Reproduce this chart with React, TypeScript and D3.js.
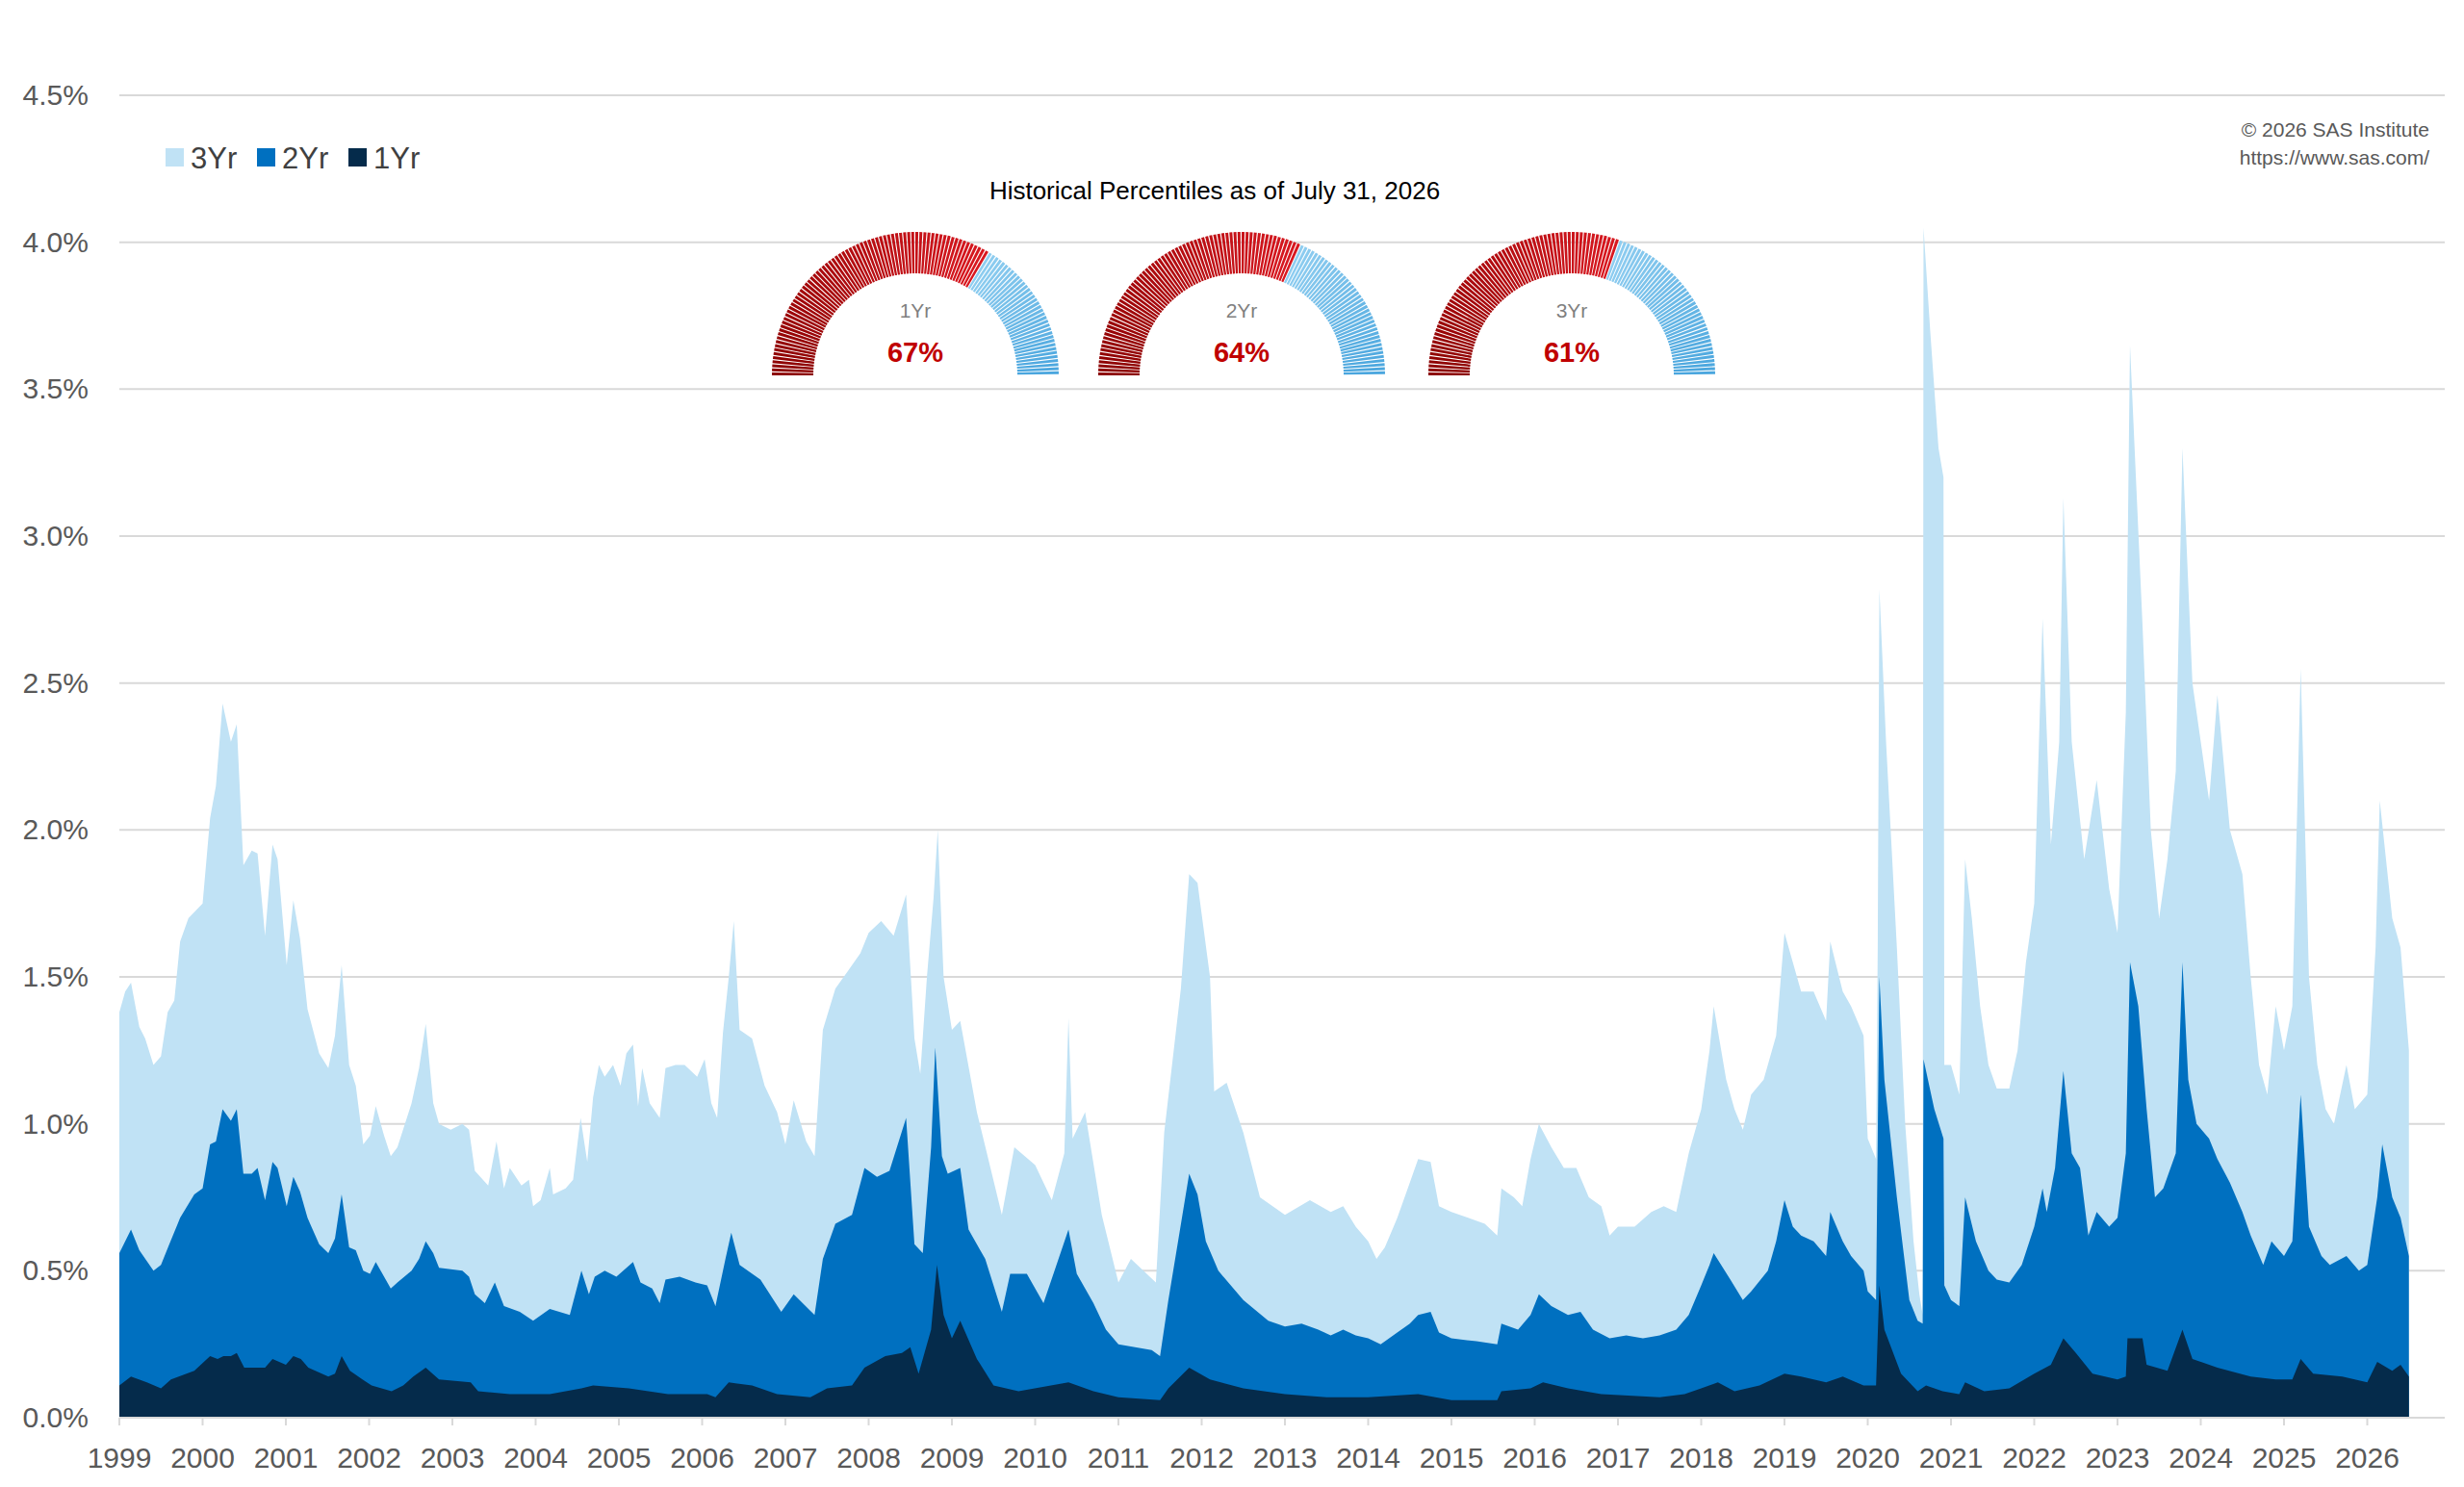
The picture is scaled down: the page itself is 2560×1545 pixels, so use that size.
import React from "react";
import * as d3 from "d3";

// [decimal year, percent]
const yr3: [number, number][] = [
  [1999.0,1.38],[1999.07,1.45],[1999.14,1.48],[1999.24,1.33],[1999.31,1.29],[1999.41,1.2],[1999.5,1.23],[1999.58,1.38],[1999.66,1.42],[1999.73,1.62],[1999.83,1.7],[2000.0,1.75],[2000.09,2.04],[2000.16,2.15],[2000.24,2.43],[2000.34,2.3],[2000.41,2.36],[2000.49,1.88],[2000.59,1.93],[2000.66,1.92],[2000.75,1.64],[2000.84,1.95],[2000.9,1.9],[2001.01,1.54],[2001.09,1.76],[2001.17,1.63],[2001.26,1.39],[2001.4,1.24],[2001.51,1.19],[2001.59,1.3],[2001.67,1.54],[2001.76,1.2],[2001.84,1.13],[2001.93,0.93],[2002.01,0.96],[2002.08,1.06],[2002.18,0.96],[2002.26,0.89],[2002.34,0.92],[2002.51,1.07],[2002.6,1.19],[2002.68,1.34],[2002.77,1.07],[2002.84,1.0],[2002.98,0.98],[2003.12,1.0],[2003.2,0.98],[2003.27,0.84],[2003.43,0.79],[2003.53,0.94],[2003.62,0.78],[2003.69,0.85],[2003.83,0.79],[2003.92,0.81],[2003.97,0.72],[2004.06,0.74],[2004.17,0.85],[2004.21,0.76],[2004.36,0.78],[2004.45,0.81],[2004.54,1.02],[2004.62,0.87],[2004.69,1.09],[2004.76,1.2],[2004.83,1.16],[2004.93,1.2],[2005.02,1.13],[2005.09,1.24],[2005.17,1.27],[2005.23,1.06],[2005.28,1.19],[2005.37,1.07],[2005.49,1.02],[2005.56,1.19],[2005.68,1.2],[2005.79,1.2],[2005.94,1.16],[2006.03,1.22],[2006.11,1.07],[2006.18,1.02],[2006.25,1.31],[2006.32,1.5],
  [2006.38,1.69],[2006.45,1.32],[2006.6,1.29],[2006.75,1.13],[2006.9,1.04],[2007.0,0.93],[2007.1,1.08],[2007.25,0.94],[2007.35,0.89],[2007.45,1.32],[2007.6,1.46],[2007.75,1.52],[2007.9,1.58],[2008.0,1.65],[2008.15,1.69],[2008.3,1.64],[2008.45,1.78],[2008.55,1.29],[2008.62,1.17],[2008.7,1.5],[2008.78,1.77],[2008.83,2.0],[2008.9,1.5],[2009.0,1.32],[2009.1,1.35],[2009.3,1.04],[2009.6,0.69],[2009.75,0.92],[2010.0,0.86],[2010.2,0.74],[2010.35,0.9],[2010.4,1.36],[2010.45,0.95],[2010.6,1.04],[2010.8,0.69],[2011.0,0.46],[2011.15,0.54],[2011.45,0.46],[2011.55,0.97],[2011.75,1.46],[2011.85,1.85],[2011.95,1.82],[2012.1,1.5],[2012.15,1.11],[2012.3,1.14],[2012.5,0.97],[2012.7,0.75],[2013.0,0.69],[2013.3,0.74],
  [2013.55,0.7],[2013.7,0.72],[2013.85,0.65],[2014.0,0.6],[2014.1,0.54],[2014.2,0.58],[2014.35,0.68],[2014.5,0.8],[2014.6,0.88],[2014.75,0.87],[2014.85,0.72],[2015.0,0.7],[2015.2,0.68],[2015.4,0.66],[2015.55,0.62],[2015.6,0.78],[2015.75,0.75],[2015.85,0.72],[2015.95,0.88],[2016.05,1.0],[2016.2,0.92],[2016.35,0.85],[2016.5,0.85],[2016.65,0.75],[2016.8,0.72],[2016.9,0.62],[2017.0,0.65],[2017.2,0.65],[2017.4,0.7],[2017.55,0.72],[2017.7,0.7],[2017.85,0.9],[2018.0,1.05],[2018.1,1.25],[2018.15,1.4],[2018.3,1.15],[2018.4,1.05],[2018.5,0.98],[2018.6,1.1],[2018.75,1.15],[2018.9,1.3],[2019.0,1.65],[2019.1,1.55],[2019.2,1.45],[2019.35,1.45],[2019.5,1.35],[2019.55,1.62],[2019.7,1.45],[2019.8,1.4],[2019.95,1.3],[2020.0,0.95],[2020.1,0.88],[2020.12,1.6],[2020.14,2.82],[2020.22,2.3],[2020.35,1.6],[2020.45,1.0],[2020.55,0.6],[2020.62,0.42],[2020.66,0.35],[2020.67,4.05],[2020.75,3.7],[2020.85,3.3],[2020.91,3.2],[2020.92,1.2],[2021.0,1.2],[2021.1,1.1],[2021.17,1.9],[2021.25,1.7],[2021.35,1.4],[2021.45,1.2],[2021.55,1.12],[2021.7,1.12],[2021.8,1.25],[2021.9,1.55],[2022.0,1.75],[2022.1,2.72],[2022.2,1.95],[2022.3,2.3],[2022.35,3.13],[2022.45,2.3],[2022.6,1.9],[2022.75,2.17],[2022.9,1.8],[2023.0,1.65],[2023.1,2.4],[2023.15,3.65],[2023.3,2.7],[2023.4,2.0],[2023.5,1.7],[2023.6,1.9],[2023.7,2.2],[2023.78,3.3],[2023.9,2.5],[2024.0,2.3],[2024.1,2.1],[2024.2,2.46],[2024.35,2.0],[2024.5,1.85],[2024.6,1.5],[2024.7,1.2],[2024.8,1.1],[2024.9,1.4],[2025.0,1.25],[2025.1,1.4],[2025.2,2.55],[2025.3,1.5],[2025.4,1.2],[2025.5,1.05],[2025.6,1.0],[2025.75,1.2],[2025.85,1.05],[2026.0,1.1],[2026.1,1.6],[2026.15,2.1],[2026.3,1.7],[2026.4,1.6],[2026.5,1.25],
];

const yr2: [number, number][] = [
  [1999.0,0.56],[1999.14,0.64],[1999.24,0.57],[1999.41,0.5],[1999.5,0.52],[1999.6,0.59],[1999.73,0.68],[1999.9,0.76],[2000.0,0.78],[2000.09,0.93],[2000.16,0.94],[2000.24,1.05],[2000.34,1.01],[2000.41,1.05],[2000.49,0.83],[2000.59,0.83],[2000.66,0.85],[2000.75,0.74],[2000.84,0.87],[2000.9,0.85],[2001.01,0.72],[2001.09,0.82],[2001.17,0.77],[2001.26,0.68],[2001.4,0.59],[2001.51,0.56],[2001.59,0.61],[2001.67,0.76],[2001.76,0.58],[2001.84,0.57],[2001.93,0.5],[2002.01,0.49],[2002.08,0.53],[2002.26,0.44],[2002.34,0.46],[2002.51,0.5],[2002.6,0.54],[2002.68,0.6],[2002.77,0.56],[2002.84,0.51],[2003.12,0.5],[2003.2,0.48],[2003.27,0.42],[2003.39,0.39],[2003.51,0.46],[2003.62,0.38],[2003.81,0.36],[2003.97,0.33],[2004.17,0.37],[2004.41,0.35],[2004.55,0.5],[2004.64,0.42],[2004.71,0.48],[2004.83,0.5],[2004.97,0.48],[2005.17,0.53],[2005.26,0.46],[2005.4,0.44],[2005.49,0.39],[2005.56,0.47],[2005.73,0.48],[2005.92,0.46],[2006.06,0.45],[2006.16,0.38],[2006.28,0.54],[2006.35,0.63],
  [2006.45,0.52],[2006.7,0.47],[2006.95,0.36],[2007.1,0.42],[2007.35,0.35],[2007.45,0.54],[2007.6,0.66],[2007.8,0.69],[2007.95,0.85],[2008.1,0.82],[2008.25,0.84],[2008.45,1.02],[2008.55,0.59],[2008.65,0.56],[2008.75,0.92],[2008.8,1.26],[2008.88,0.89],[2008.95,0.83],[2009.1,0.85],[2009.2,0.64],[2009.4,0.54],[2009.6,0.36],[2009.7,0.49],[2009.9,0.49],[2010.1,0.39],[2010.4,0.64],[2010.5,0.49],[2010.7,0.39],[2010.85,0.3],[2011.0,0.25],[2011.4,0.23],[2011.5,0.21],[2011.6,0.4],[2011.85,0.83],[2011.95,0.76],[2012.05,0.6],[2012.2,0.5],[2012.5,0.4],[2012.8,0.33],[2013.0,0.31],
  [2013.2,0.32],[2013.4,0.3],[2013.55,0.28],[2013.7,0.3],[2013.85,0.28],[2014.0,0.27],[2014.15,0.25],[2014.3,0.28],[2014.5,0.32],[2014.6,0.35],[2014.75,0.36],[2014.85,0.29],[2015.0,0.27],[2015.3,0.26],[2015.55,0.25],[2015.6,0.32],[2015.8,0.3],[2015.95,0.35],[2016.05,0.42],[2016.2,0.38],[2016.4,0.35],[2016.55,0.36],[2016.7,0.3],[2016.9,0.27],[2017.1,0.28],[2017.3,0.27],[2017.5,0.28],[2017.7,0.3],[2017.85,0.35],[2018.0,0.45],[2018.1,0.52],[2018.15,0.56],[2018.35,0.47],[2018.5,0.4],[2018.6,0.43],[2018.8,0.5],[2018.9,0.6],[2019.0,0.74],[2019.1,0.65],[2019.2,0.62],[2019.35,0.6],[2019.5,0.55],[2019.55,0.7],[2019.7,0.6],[2019.8,0.55],[2019.95,0.5],[2020.0,0.43],[2020.1,0.4],[2020.14,1.5],[2020.2,1.15],[2020.35,0.75],[2020.5,0.4],[2020.6,0.33],[2020.66,0.32],[2020.67,1.22],[2020.8,1.05],[2020.91,0.95],[2020.92,0.45],[2021.0,0.4],[2021.1,0.38],[2021.17,0.75],[2021.3,0.6],[2021.45,0.5],[2021.55,0.47],[2021.7,0.46],[2021.85,0.52],[2022.0,0.65],[2022.1,0.78],[2022.15,0.7],[2022.25,0.85],[2022.35,1.18],[2022.45,0.9],[2022.55,0.85],[2022.65,0.62],[2022.75,0.7],[2022.9,0.65],[2023.0,0.68],[2023.1,0.9],[2023.15,1.55],[2023.25,1.4],[2023.35,1.05],[2023.45,0.75],[2023.55,0.78],[2023.7,0.9],[2023.78,1.55],[2023.85,1.15],[2023.95,1.0],[2024.1,0.95],[2024.2,0.88],[2024.35,0.8],[2024.5,0.7],[2024.6,0.62],[2024.75,0.52],[2024.85,0.6],[2025.0,0.55],[2025.1,0.6],[2025.2,1.1],[2025.3,0.65],[2025.45,0.55],[2025.55,0.52],[2025.75,0.55],[2025.9,0.5],[2026.0,0.52],[2026.12,0.75],[2026.18,0.93],[2026.3,0.75],[2026.4,0.68],[2026.5,0.55],
];

const yr1: [number, number][] = [
  [1999.0,0.11],[1999.14,0.14],[1999.33,0.12],[1999.5,0.1],[1999.62,0.13],[1999.9,0.16],[2000.09,0.21],[2000.18,0.2],[2000.25,0.21],[2000.34,0.21],[2000.41,0.22],[2000.5,0.17],[2000.75,0.17],[2000.84,0.2],[2001.0,0.18],[2001.09,0.21],[2001.18,0.2],[2001.27,0.17],[2001.51,0.14],[2001.59,0.15],[2001.67,0.21],[2001.77,0.16],[2001.92,0.13],[2002.03,0.11],[2002.27,0.09],[2002.41,0.11],[2002.53,0.14],[2002.68,0.17],[2002.84,0.13],[2003.22,0.12],[2003.31,0.09],[2003.69,0.08],[2004.17,0.08],[2004.55,0.1],[2004.69,0.11],[2005.12,0.1],[2005.59,0.08],[2006.06,0.08],[2006.16,0.07],[2006.32,0.12],
  [2006.6,0.11],[2006.9,0.08],[2007.3,0.07],[2007.5,0.1],[2007.8,0.11],[2007.95,0.17],[2008.2,0.21],[2008.4,0.22],[2008.5,0.24],[2008.6,0.15],[2008.75,0.3],[2008.82,0.52],[2008.9,0.35],[2009.0,0.27],[2009.1,0.33],[2009.3,0.2],[2009.5,0.11],[2009.8,0.09],[2010.4,0.12],[2010.7,0.09],[2011.0,0.07],[2011.5,0.06],[2011.6,0.1],[2011.85,0.17],[2012.1,0.13],[2012.5,0.1],[2013.0,0.08],
  [2013.5,0.07],[2014.0,0.07],[2014.6,0.08],[2015.0,0.06],[2015.55,0.06],[2015.6,0.09],[2015.95,0.1],[2016.1,0.12],[2016.4,0.1],[2016.8,0.08],[2017.5,0.07],[2017.8,0.08],[2018.0,0.1],[2018.2,0.12],[2018.4,0.09],[2018.7,0.11],[2019.0,0.15],[2019.2,0.14],[2019.5,0.12],[2019.7,0.14],[2019.95,0.11],[2020.1,0.11],[2020.14,0.45],[2020.2,0.3],[2020.4,0.15],[2020.6,0.09],[2020.7,0.11],[2020.9,0.09],[2021.1,0.08],[2021.17,0.12],[2021.4,0.09],[2021.7,0.1],[2022.0,0.15],[2022.2,0.18],[2022.35,0.27],[2022.5,0.22],[2022.7,0.15],[2023.0,0.13],[2023.1,0.14],[2023.12,0.27],[2023.3,0.27],[2023.35,0.18],[2023.6,0.16],[2023.78,0.3],[2023.9,0.2],[2024.2,0.17],[2024.6,0.14],[2024.9,0.13],[2025.1,0.13],[2025.2,0.2],[2025.35,0.15],[2025.7,0.14],[2026.0,0.12],[2026.12,0.19],[2026.3,0.16],[2026.4,0.18],[2026.5,0.14],
];

const years = d3.range(1999, 2027);
const yTicks = [0, 0.5, 1, 1.5, 2, 2.5, 3, 3.5, 4, 4.5];

const gaugeLabels = ["1Yr", "2Yr", "3Yr"];
const gaugeValues = [67, 64, 61];

const FONT = "'Liberation Sans', Arial, sans-serif";

const x = d3.scaleLinear().domain([1999, 2026]).range([124, 2459.5]);
const y = d3.scaleLinear().domain([0, 4.5]).range([1473, 99]);

const area = d3
  .area<[number, number]>()
  .x((d) => x(d[0]))
  .y0(y(0))
  .y1((d) => y(d[1]));

const series = [
  { name: "3Yr", data: yr3, color: "#c0e2f5" },
  { name: "2Yr", data: yr2, color: "#0070c0" },
  { name: "1Yr", data: yr1, color: "#052b4b" },
];

const Gauge: React.FC<{ cx: number; label: string; value: number }> = ({ cx, label, value }) => {
  const n = 110;
  const outer = 149;
  const inner = 106;
  const cy = 390;
  const redN = Math.round((value / 100) * n);
  const red = d3.interpolateRgb("#8c0000", "#d81820");
  const blue = d3.interpolateRgb("#8fcdf0", "#4aa6de");
  const arc = d3.arc();
  const step = Math.PI / n;
  return (
    <g>
      {d3.range(n).map((i) => {
        const a0 = -Math.PI / 2 + i * step;
        const isRed = i < redN;
        const color = isRed ? red(i / Math.max(redN - 1, 1)) : blue((i - redN) / Math.max(n - redN - 1, 1));
        return (
          <path
            key={i}
            transform={`translate(${cx},${cy})`}
            d={arc({ innerRadius: inner, outerRadius: outer, startAngle: a0, endAngle: a0 + step * 0.72 }) || ""}
            fill={color}
          />
        );
      })}
      <text x={cx} y={330} textAnchor="middle" fontSize={21} fill="#7f7f7f" fontFamily={FONT}>{label}</text>
      <text x={cx} y={376} textAnchor="middle" fontSize={29} fontWeight="bold" fill="#c00000" fontFamily={FONT}>{value}%</text>
    </g>
  );
};

const App: React.FC = () => {
  return (
    <svg width={2560} height={1545} style={{ position: "absolute", left: 0, top: 0, background: "#fff" }}>
      {yTicks.map((t) => (
        <g key={t}>
          <line x1={124} x2={2540} y1={y(t)} y2={y(t)} stroke="#d9d9d9" strokeWidth={2} />
          <text x={92} y={y(t) + 10} textAnchor="end" fontSize={30} fill="#595959" fontFamily={FONT}>
            {t.toFixed(1)}%
          </text>
        </g>
      ))}
      {series.map((s) => (
        <path key={s.name} d={area(s.data) || ""} fill={s.color} />
      ))}
      <line x1={124} x2={2540} y1={y(0)} y2={y(0)} stroke="#d9d9d9" strokeWidth={2} />
      {years.map((yr) => (
        <g key={yr}>
          <line x1={x(yr)} x2={x(yr)} y1={y(0)} y2={y(0) + 8} stroke="#d9d9d9" strokeWidth={2} />
          <text x={x(yr)} y={1525} textAnchor="middle" fontSize={30} fill="#595959" fontFamily={FONT}>{yr}</text>
        </g>
      ))}
      {series.map((s, i) => (
        <g key={s.name} transform={`translate(${172 + i * 95},0)`}>
          <rect x={0} y={154} width={19} height={19} fill={s.color} />
          <text x={26} y={175} fontSize={31} fill="#404040" fontFamily={FONT}>{s.name}</text>
        </g>
      ))}
      <text x={2524} y={142} textAnchor="end" fontSize={21} fill="#595959" fontFamily={FONT}>© 2026 SAS Institute</text>
      <text x={2524} y={171} textAnchor="end" fontSize={21} fill="#595959" fontFamily={FONT}>https://www.sas.com/</text>
      <text x={1262} y={207} textAnchor="middle" fontSize={26} fill="#000" fontFamily={FONT}>Historical Percentiles as of July 31, 2026</text>
      {gaugeLabels.map((l, i) => (
        <Gauge key={l} cx={[951, 1290, 1633][i]} label={l} value={gaugeValues[i]} />
      ))}
    </svg>
  );
};

export default App;
